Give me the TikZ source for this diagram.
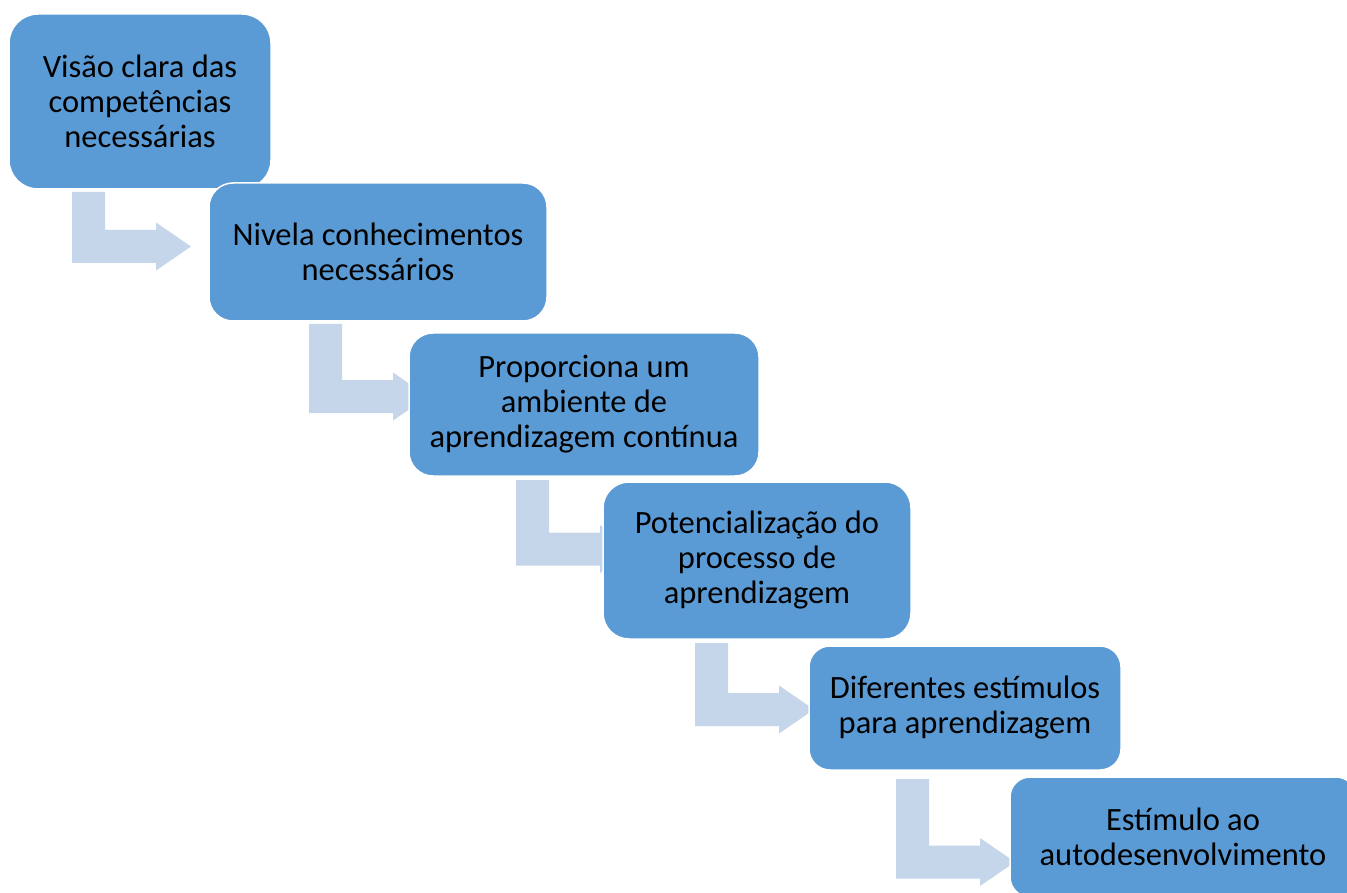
\documentclass[tikz,border=0pt]{standalone}
\usepackage{fontspec}
\setmainfont{Carlito}
\definecolor{boxblue}{HTML}{5B9BD5}
\definecolor{arrowblue}{HTML}{C5D5EA}
\tikzset{
  stepbox/.style={draw=white, line width=1.5pt, fill=boxblue, text=black,
    align=center, inner sep=0pt, font=\fontsize{32.5}{35}\selectfont},
  bentarrow/.style={fill=arrowblue, draw=none}
}
% #1 = left x of vertical bar, #2 = top y, #3 = centre y of horizontal bar (pixel units, y downwards)
\newcommand{\bentarr}[3]{%
  \fill[bentarrow] (#1,-#2) -- ({#1+33},-#2) -- ({#1+33},{-(#3-16.5)}) -- ({#1+84},{-(#3-16.5)})
    -- ({#1+84},{-(#3-24)}) -- ({#1+119},-#3) -- ({#1+84},{-(#3+24)}) -- ({#1+84},{-(#3+16.5)})
    -- (#1,{-(#3+16.5)}) -- cycle;}
\begin{document}
\begin{tikzpicture}[x=1pt,y=1pt]
\clip (0,0) rectangle (1347,-893);
\fill[white] (0,0) rectangle (1347,-893);
% connectors (bent arrows)
\bentarr{72}{192}{246.5}
\bentarr{309}{324}{396.5}
\bentarr{516}{480}{549}
\bentarr{695}{643}{709.5}
\bentarr{896}{779}{862}
% boxes
\node[stepbox, minimum width=262pt, minimum height=175pt, rounded corners=29pt] (b1) at (140,-101.5)
  {Visão clara das\\competências\\necessárias};
\node[stepbox, minimum width=338pt, minimum height=138pt, rounded corners=24pt] (b2) at (378,-252)
  {Nivela conhecimentos\\necessários};
\node[stepbox, minimum width=350pt, minimum height=143pt, rounded corners=24pt] (b3) at (584,-404.5)
  {Proporciona um\\ambiente de\\aprendizagem contínua};
\node[stepbox, minimum width=308pt, minimum height=157pt, rounded corners=26pt] (b4) at (757,-560.5)
  {Potencialização do\\processo de\\aprendizagem};
\node[stepbox, minimum width=312pt, minimum height=124pt, rounded corners=21pt] (b5) at (965,-708)
  {Diferentes estímulos\\para aprendizagem};
\node[stepbox, minimum width=346pt, minimum height=120pt, rounded corners=20pt] (b6) at (1183,-837)
  {Estímulo ao\\autodesenvolvimento};
\end{tikzpicture}
\end{document}
